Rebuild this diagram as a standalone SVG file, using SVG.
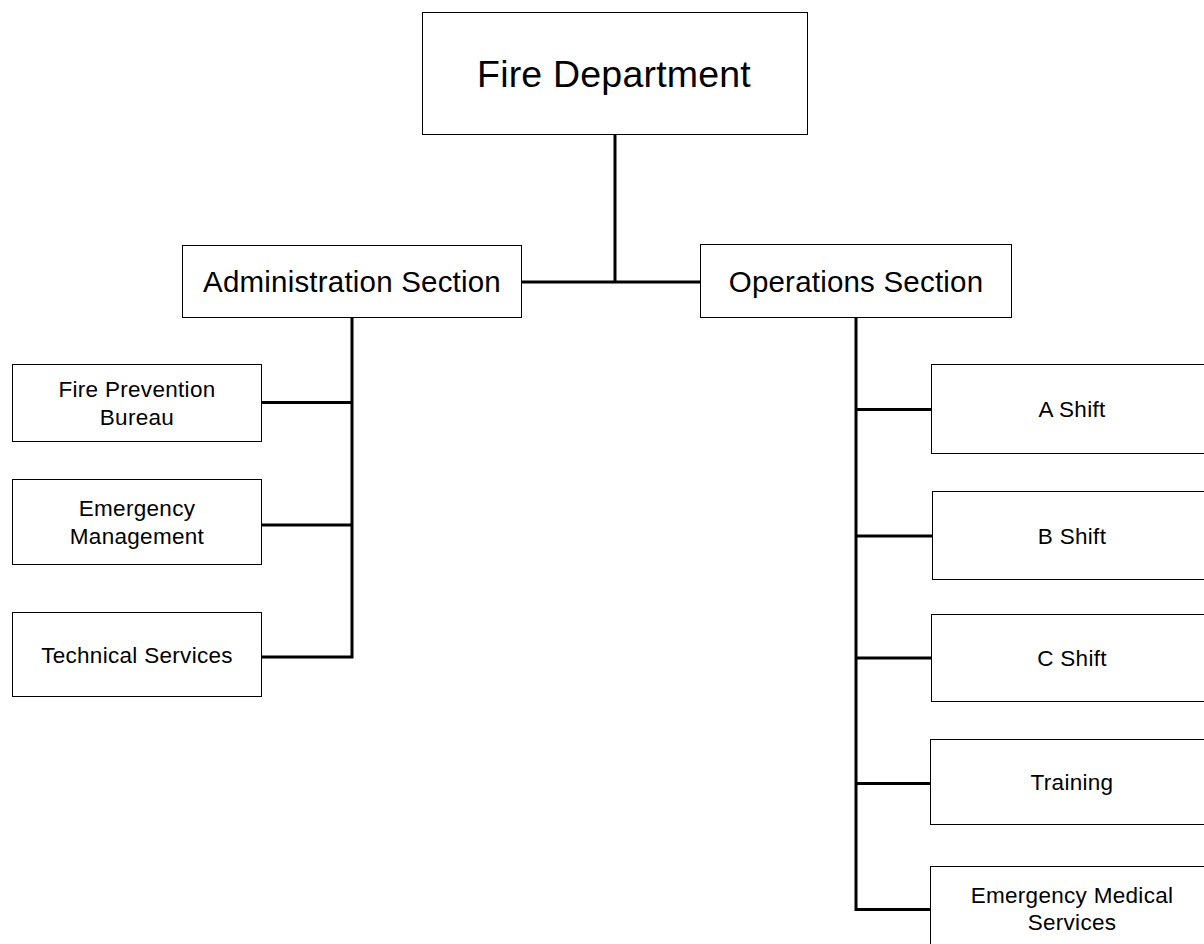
<svg xmlns="http://www.w3.org/2000/svg" width="1204" height="944" viewBox="0 0 1204 944">
<style>
.box{fill:#fff;stroke:#000;stroke-width:1}
.t{font-family:"Liberation Sans",Arial,sans-serif;fill:#000;text-anchor:middle}
.t1{font-size:37.5px;letter-spacing:0.2px}
.t2{font-size:29.5px;letter-spacing:0.2px}
.t3{font-size:22.5px;letter-spacing:0.3px}
.c{fill:none;stroke:#000;stroke-width:3;stroke-linejoin:miter;stroke-linecap:butt}
</style>
<rect width="1204" height="944" fill="#fff"/>
<g id="connectors">
<path class="c" d="M615 134 V282"/>
<path class="c" d="M522 282 H700"/>
<path class="c" d="M352 317 V657 H262"/>
<path class="c" d="M262 402.5 H352"/>
<path class="c" d="M262 525 H352"/>
<path class="c" d="M856 317 V909.5 H931"/>
<path class="c" d="M856 409.5 H932"/>
<path class="c" d="M856 536 H933"/>
<path class="c" d="M856 658 H932"/>
<path class="c" d="M856 783.5 H931"/>
</g>
<g id="fire-department">
<rect class="box" x="422.5" y="12.5" width="385" height="122"/>
<text class="t t1" x="614" y="87">Fire Department</text>
</g>
<g id="administration-section">
<rect class="box" x="182.5" y="245.5" width="339" height="72"/>
<text class="t t2" x="352" y="292">Administration Section</text>
</g>
<g id="operations-section">
<rect class="box" x="700.5" y="244.5" width="311" height="73"/>
<text class="t t2" x="856" y="292">Operations Section</text>
</g>
<g id="fire-prevention-bureau">
<rect class="box" x="12.5" y="364.5" width="249" height="77"/>
<text class="t t3" x="137" y="397">Fire Prevention</text>
<text class="t t3" x="137" y="425">Bureau</text>
</g>
<g id="emergency-management">
<rect class="box" x="12.5" y="479.5" width="249" height="85"/>
<text class="t t3" x="137" y="516">Emergency</text>
<text class="t t3" x="137" y="544">Management</text>
</g>
<g id="technical-services">
<rect class="box" x="12.5" y="612.5" width="249" height="84"/>
<text class="t t3" x="137" y="663">Technical Services</text>
</g>
<g id="a-shift">
<rect class="box" x="931.5" y="364.5" width="290" height="89"/>
<text class="t t3" x="1072" y="417">A Shift</text>
</g>
<g id="b-shift">
<rect class="box" x="932.5" y="491.5" width="290" height="88"/>
<text class="t t3" x="1072" y="544">B Shift</text>
</g>
<g id="c-shift">
<rect class="box" x="931.5" y="614.5" width="290" height="87"/>
<text class="t t3" x="1072" y="666">C Shift</text>
</g>
<g id="training">
<rect class="box" x="930.5" y="739.5" width="290" height="85"/>
<text class="t t3" x="1072" y="790">Training</text>
</g>
<g id="emergency-medical-services">
<rect class="box" x="930.5" y="866.5" width="290" height="100"/>
<text class="t t3" x="1072" y="903">Emergency Medical</text>
<text class="t t3" x="1072" y="930">Services</text>
</g>
</svg>
